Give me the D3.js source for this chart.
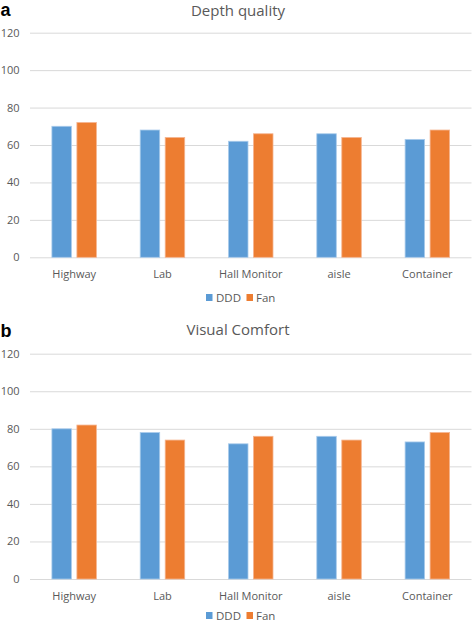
<!DOCTYPE html>
<html>
<head>
<meta charset="utf-8">
<script src="https://cdn.jsdelivr.net/npm/d3@7"></script>
<style>
  html, body { margin: 0; padding: 0; background: #fff; }
  svg { display: block; }
</style>
</head>
<body>
<script>
const categories = ["Highway", "Lab", "Hall Monitor", "aisle", "Container"];
const seriesNames = ["DDD", "Fan"];
const depthDDD = [70, 68, 62, 66, 63];
const depthFan = [72, 64, 66, 64, 68];
const comfortDDD = [80, 78, 72, 76, 73];
const comfortFan = [82, 74, 76, 74, 78];
const yTicks = [0, 20, 40, 60, 80, 100, 120];
const colors = ["#5B9BD5", "#ED7D31"];

const W = 472, H = 624;
const svg = d3.select("body").append("svg").attr("width", W).attr("height", H);
const FONT = "'Open Sans', 'Liberation Sans', sans-serif";

function panel(cfg) {
  const g = svg.append("g");
  const x0 = d3.scaleBand().domain(categories).range([30, 471.5]).paddingInner(0).paddingOuter(0);
  const y = d3.scaleLinear().domain([0, 120]).range([cfg.y0, cfg.y120]);
  const barW = 19.5, gap = 5.5;
  const x1 = d3.scaleBand().domain(seriesNames).range([0, barW * 2 + gap]).paddingInner(gap / (barW + gap)).paddingOuter(0);

  // panel letter
  g.append("text").attr("x", 0.5).attr("y", cfg.letterY)
    .attr("font-family", "'Liberation Sans', Arial, sans-serif").attr("font-weight", "bold")
    .attr("font-size", 18).attr("fill", "#000").text(cfg.letter);

  // title
  g.append("text").attr("x", 238).attr("y", cfg.titleY).attr("text-anchor", "middle")
    .attr("font-family", FONT).attr("font-size", 15).attr("fill", "#595959").text(cfg.title);

  // gridlines + y labels
  const yAxis = d3.axisLeft(y).tickValues(yTicks).tickSize(-(471.5 - 30)).tickPadding(10.5).tickFormat(d3.format("d"));
  const ya = g.append("g").attr("transform", "translate(30,0)").call(yAxis);
  ya.select(".domain").remove();
  ya.selectAll(".tick line").attr("stroke", "#D9D9D9").attr("stroke-width", 1);
  ya.selectAll(".tick text").attr("font-family", FONT).attr("font-size", 11).attr("fill", "#595959");

  // bars
  const data = categories.map((c, i) => ({ c, vals: [cfg.s1[i], cfg.s2[i]] }));
  const groups = g.selectAll(".grp").data(data).join("g")
    .attr("transform", d => `translate(${x0(d.c) + (x0.bandwidth() - (barW * 2 + gap)) / 2},0)`);
  groups.selectAll("rect").data(d => d.vals.map((v, k) => ({ v, s: seriesNames[k], k }))).join("rect")
    .attr("x", d => x1(d.s)).attr("width", x1.bandwidth())
    .attr("y", d => y(d.v)).attr("height", d => y(0) - y(d.v))
    .attr("fill", d => colors[d.k])
    .attr("stroke", d => d.k === 0 ? "#A9CBEB" : "#F5B48F").attr("stroke-width", 0.8);

  // x labels
  const xAxis = d3.axisBottom(x0).tickSize(0).tickPadding(0);
  const xa = g.append("g").attr("transform", `translate(0,${cfg.xLabelY})`).call(xAxis);
  xa.select(".domain").remove();
  xa.selectAll(".tick text").attr("dy", 0).attr("font-family", FONT).attr("font-size", 11).attr("fill", "#595959");

  // legend
  const leg = g.append("g").attr("transform", `translate(0,${cfg.legendY})`);
  const items = [{ name: "DDD", sx: 206, tx: 216 }, { name: "Fan", sx: 246.5, tx: 256 }];
  items.forEach((it, k) => {
    leg.append("rect").attr("x", it.sx).attr("y", -7.5).attr("width", 6.5).attr("height", 7).attr("fill", colors[k]);
    leg.append("text").attr("x", it.tx).attr("y", 0).attr("font-family", FONT).attr("font-size", 11.5)
      .attr("fill", "#595959").text(it.name);
  });
}

panel({ letter: "a", letterY: 16, title: "Depth quality", titleY: 16, y0: 257.3, y120: 32.7,
  s1: depthDDD, s2: depthFan, xLabelY: 277.5, legendY: 301.5 });
panel({ letter: "b", letterY: 337, title: "Visual Comfort", titleY: 335, y0: 579, y120: 353.7,
  s1: comfortDDD, s2: comfortFan, xLabelY: 599.5, legendY: 619.5 });
</script>
</body>
</html>
